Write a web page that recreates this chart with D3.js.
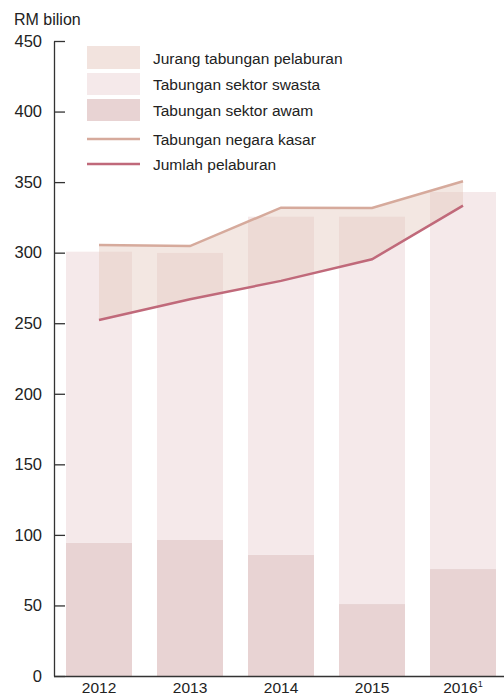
<!DOCTYPE html>
<html><head><meta charset="utf-8">
<script src="https://cdn.jsdelivr.net/npm/d3@7"></script>
<style>
html,body{margin:0;padding:0;background:#fff;}
svg text{font-family:"Liberation Sans",Arial,Helvetica,sans-serif;fill:#222;}
</style></head>
<body>
<svg id="c" width="504" height="697"></svg>
<script>
const years = ["2012","2013","2014","2015","2016"];
const publicSavings = [94.3, 96.4, 85.8, 51.0, 75.8];
const privateSavings = [206.4, 203.4, 239.7, 274.5, 267.2];
const grossNationalSavings = [305.5, 304.7, 331.9, 331.7, 350.6];
const totalInvestment = [252.3, 267.0, 280.0, 295.3, 333.3];
const yTicks = [0, 50, 100, 150, 200, 250, 300, 350, 400, 450];
const legendLabels = ["Jurang tabungan pelaburan","Tabungan sektor swasta","Tabungan sektor awam","Tabungan negara kasar","Jumlah pelaburan"];

const C = {pub:"#e8d3d3", priv:"#f5e9ea", gap:"rgb(225,195,183)", gapSw:"#f2e3de", gns:"#d6aa9c", inv:"#c0697a"};
const svg = d3.select("#c");
const x0 = 54, yBase = 676, yTop = 41;
const x = d3.scaleBand().domain(years).range([x0, 508]).paddingInner(0.275).paddingOuter(0.132);
const y = d3.scaleLinear().domain([0, 450]).range([yBase, yTop]);
const cx = d => x(d) + x.bandwidth()/2;

// bars
const g = svg.append("g");
g.selectAll("rect.pub").data(years).join("rect")
  .attr("x", d => x(d)).attr("width", x.bandwidth())
  .attr("y", (d,i) => y(publicSavings[i])).attr("height", (d,i) => yBase - y(publicSavings[i]))
  .attr("fill", C.pub);
g.selectAll("rect.priv").data(years).join("rect")
  .attr("x", d => x(d)).attr("width", x.bandwidth())
  .attr("y", (d,i) => y(publicSavings[i] + privateSavings[i]))
  .attr("height", (d,i) => y(publicSavings[i]) - y(publicSavings[i] + privateSavings[i]))
  .attr("fill", C.priv);

// gap area
const area = d3.area().x((d,i) => cx(years[i])).y0((d,i) => y(totalInvestment[i])).y1(d => y(d));
svg.append("path").datum(grossNationalSavings).attr("d", area).attr("fill", C.gap).attr("fill-opacity", 0.4);

const line = d3.line().x((d,i) => cx(years[i])).y(d => y(d));
svg.append("path").datum(grossNationalSavings).attr("d", line).attr("fill","none").attr("stroke", C.gns).attr("stroke-width", 2.5);
svg.append("path").datum(totalInvestment).attr("d", line).attr("fill","none").attr("stroke", C.inv).attr("stroke-width", 2.5);

// y axis
const ya = svg.append("g").attr("transform", `translate(${x0},0)`)
  .call(d3.axisLeft(y).tickValues(yTicks).tickSizeInner(-11).tickSizeOuter(0).tickPadding(12));
ya.select(".domain").attr("stroke","#333").attr("stroke-width",1.3);
ya.selectAll(".tick line").attr("stroke","#333").attr("stroke-width",1.3);
ya.selectAll(".tick text").attr("font-size", 16.5).attr("fill","#222").attr("font-family", null);

// x axis
const xa = svg.append("g").attr("transform", `translate(0,${yBase})`)
  .call(d3.axisBottom(x).tickSize(0).tickPadding(3));
xa.select(".domain").attr("d", `M${x0},0.5H504`).attr("stroke","#333").attr("stroke-width",1.3);
xa.selectAll(".tick text").attr("font-size", 15.5).attr("fill","#222").attr("font-family", null)
  .attr("dy","0.88em")
  .each(function(d){ if (d === "2016") { d3.select(this).text("2016").append("tspan").attr("dy","-0.6em").attr("font-size", 9).text("1"); } });

svg.append("text").attr("x", 14).attr("y", 25).attr("font-size", 16).text("RM bilion");

// legend
const lg = svg.append("g");
const sw = [{c:C.gapSw, y:46, h:23}, {c:C.priv, y:73, h:22}, {c:C.pub, y:99, h:22}];
sw.forEach((s,i) => {
  lg.append("rect").attr("x",87).attr("y",s.y).attr("width",53).attr("height",s.h).attr("fill",s.c);
  lg.append("text").attr("x",153).attr("y",s.y + s.h/2 + 6).attr("font-size",15.5).text(legendLabels[i]);
});
[{c:C.gns, y:139}, {c:C.inv, y:164}].forEach((s,i) => {
  lg.append("line").attr("x1",87).attr("x2",140).attr("y1",s.y).attr("y2",s.y).attr("stroke",s.c).attr("stroke-width",2.5);
  lg.append("text").attr("x",153).attr("y",s.y + 6).attr("font-size",15.5).text(legendLabels[3+i]);
});
</script>
</body></html>
